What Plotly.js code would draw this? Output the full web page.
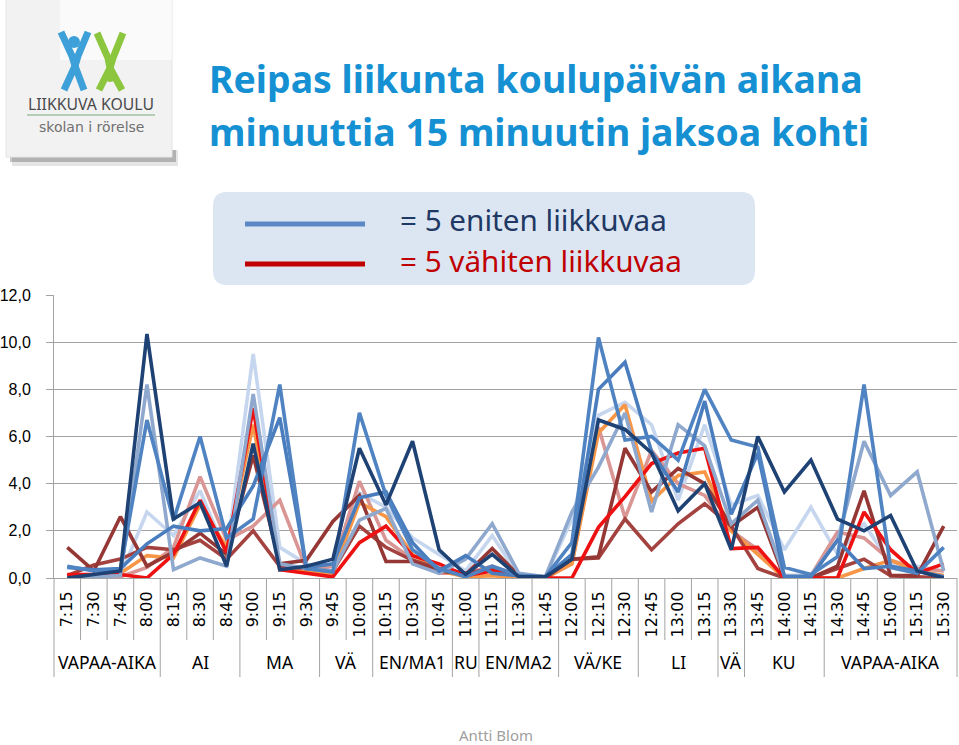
<!DOCTYPE html>
<html><head><meta charset="utf-8">
<script src="https://cdn.plot.ly/plotly-3.0.1.min.js"></script>
<style>html,body{margin:0;padding:0;background:#fff;}#chart{width:959px;height:745px;}</style>
</head><body><div id="chart"></div>
<script>
// ---- data ----
const times = ['7:15','7:30','7:45','8:00','8:15','8:30','8:45','9:00','9:15','9:30','9:45','10:00','10:15','10:30','10:45','11:00','11:15','11:30','11:45','12:00','12:15','12:30','12:45','13:00','13:15','13:30','13:45','14:00','14:15','14:30','14:45','15:00','15:15','15:30'];
const groupNames = ['VAPAA-AIKA','AI','MA','VÄ','EN/MA1','RU','EN/MA2','VÄ/KE','LI','VÄ','KU','VAPAA-AIKA'];
const groupSizes = [4,3,3,2,3,1,3,3,3,1,3,5];
const yTicks = [0,2,4,6,8,10,12];

const lightBlue = [0,0,0.1,2.8,1.8,3.7,1.0,9.5,1.3,0.6,0.3,3.6,3.0,1.7,1.0,0.3,1.8,0.1,0.05,2.5,6.9,7.45,6.5,3.3,6.5,3.1,3.5,1.2,3.0,1.0,2.3,0.6,0.5,0.3];
const salmon = [0,0.1,0.05,0.45,1.3,4.3,1.6,2.2,3.3,0.4,0.5,4.1,1.6,0.8,0.2,0.2,0.5,0.1,0,0.6,6.4,2.55,5.4,4.0,3.5,2.0,1.2,0,0.1,1.95,1.7,0.75,0.4,0.3];
const orange = [0.05,0.1,0.2,0.95,0.85,3.1,1.3,6.5,0.5,0.3,0.2,3.2,2.6,1.0,0.3,0.05,0.1,0,0,0.6,6.15,7.35,3.25,4.35,4.5,2.0,1.0,0,0,0,0.4,0.75,0.3,0.1];
const darkRedB = [0.1,0.55,0.8,1.3,1.2,1.6,0.8,2.0,0.5,0.4,0.3,2.2,1.3,0.75,0.4,0.2,0.4,0.1,0,0.8,0.85,2.5,1.2,2.3,3.15,2.2,0.4,0,0,0.4,0.8,0.1,0.05,0];
const darkRedA = [1.3,0.3,2.6,0.5,1.1,1.9,1.0,5.2,0.6,0.75,2.4,3.5,0.7,0.7,0.3,0.15,1.25,0.1,0.05,0.8,0.9,5.5,3.65,4.65,4.0,2.2,3.0,0,0,0.5,3.7,0.1,0.1,2.2];
const red = [0.15,0.15,0.15,0,1.0,3.3,1.1,7.2,0.35,0.2,0.05,1.5,2.2,0.95,0.6,0.1,0.3,0.1,0,0,2.15,3.45,4.85,5.3,5.5,1.25,1.3,0,0,0,2.8,1.2,0.2,0.6];
const grayBlue = [0,0.05,0.1,8.2,0.35,0.85,0.5,7.8,0.6,0.4,0.3,2.45,2.95,0.6,0.2,0.8,2.3,0.2,0.05,2.8,4.7,7.0,2.8,6.5,5.6,2.3,3.3,0.1,0.1,1.6,5.8,3.5,4.5,0.3];
const blueB = [0.45,0.35,0.4,1.45,2.2,2.0,2.1,3.9,6.8,0.45,0.6,3.4,3.65,1.5,0.3,0.95,0.2,0.1,0.05,1.0,8.0,9.15,5.35,3.65,7.5,2.7,5.3,0.05,0.05,1.6,0.4,0.5,0.3,0.05];
const blueA = [0.5,0.3,0.35,6.7,2.45,6.0,1.7,2.5,8.2,0.4,0.25,7.0,3.5,1.2,0.4,0.05,0.5,0.1,0.05,1.5,10.2,5.85,6.0,5.0,8.0,5.85,5.55,0.45,0.15,0.9,8.2,0.45,0.2,1.3];
const navy = [0,0.15,0.3,10.35,2.5,3.2,0.5,5.7,0.35,0.5,0.8,5.5,3.1,5.8,1.2,0.15,1.0,0.05,0.05,0.8,6.7,6.3,5.3,2.85,4.0,1.2,6.0,3.65,5.0,2.5,2.0,2.65,0.3,0];

const series = [
  {y: lightBlue, c: '#c5d6ee'},
  {y: salmon, c: '#d99694'},
  {y: orange, c: '#f79646'},
  {y: darkRedB, c: '#a4423f'},
  {y: darkRedA, c: '#953735'},
  {y: red, c: '#ee1111'},
  {y: grayBlue, c: '#8fa8cd'},
  {y: blueB, c: '#4a7dbd'},
  {y: blueA, c: '#4f83c2'},
  {y: navy, c: '#1f4274'}
];

// ---- geometry helpers (pixel -> paper) ----
const W = 959, H = 745, ML = 54, MR = 2, MT = 295, MB = 167;
const PW = W - ML - MR, PH = H - MT - MB;
const X = px => (px - ML) / PW;
const Y = py => (H - MB - py) / PH;
const NC = times.length;

// measure text to pick a font size giving a target width
const NARROW = "'Noto Sans', 'Open Sans', sans-serif";
function textWidth(text, fam, weight, stretch) {
  const s = document.createElement('span');
  s.style.cssText = 'position:absolute;visibility:hidden;white-space:nowrap;font-size:100px;font-family:' + fam +
    ';font-weight:' + weight + ';font-stretch:' + stretch;
  s.textContent = text;
  document.body.appendChild(s);
  const w = s.getBoundingClientRect().width;
  s.remove();
  return w;
}
function fit(text, target, weight, stretch, maxSize) {
  const sz = 100 * target / textWidth(text, NARROW, weight, stretch);
  return Math.min(sz, maxSize || 999);
}

const traces = series.map(s => ({
  x: times, y: s.y, type: 'scatter', mode: 'lines',
  line: {color: s.c, width: 3.6}, hoverinfo: 'skip', showlegend: false
}));

const grid = '#a3a3a3';
const shapes = [];
const annotations = [];

// category separators
const groupStarts = [0];
groupSizes.forEach((n, i) => groupStarts.push(groupStarts[i] + n));
for (let i = 0; i <= NC; i++) {
  const isGroup = groupStarts.indexOf(i) >= 0;
  shapes.push({type: 'line', xref: 'paper', yref: 'paper', x0: i / NC, x1: i / NC, y0: 0, y1: Y(isGroup ? 677 : 640), line: {color: grid, width: 1}});
}
const gSize = fit('VAPAA-AIKA', 98, 400, 'condensed', 22);
groupNames.forEach((g, i) => {
  const mid = (groupStarts[i] + groupSizes[i] / 2) / NC;
  annotations.push({xref: 'paper', yref: 'paper', x: mid, y: Y(662), text: g, showarrow: false, xanchor: 'center', yanchor: 'middle',
    font: {family: NARROW, stretch: 'condensed', size: gSize, color: '#000'}});
});

// rounded rect path in pixel coordinates
function rr(x0, y0, x1, y1, r) {
  const p = (a, b) => X(a) + ',' + Y(b);
  return 'M' + p(x0 + r, y0) + ' L' + p(x1 - r, y0) + ' Q' + p(x1, y0) + ' ' + p(x1, y0 + r) +
    ' L' + p(x1, y1 - r) + ' Q' + p(x1, y1) + ' ' + p(x1 - r, y1) + ' L' + p(x0 + r, y1) +
    ' Q' + p(x0, y1) + ' ' + p(x0, y1 - r) + ' L' + p(x0, y0 + r) + ' Q' + p(x0, y0) + ' ' + p(x0 + r, y0) + ' Z';
}
function pl(pts) { return 'M' + pts.map(q => X(q[0]) + ',' + Y(q[1])).join(' L'); }

// legend box
shapes.push({type: 'path', xref: 'paper', yref: 'paper', path: rr(213, 192, 755, 285, 14), fillcolor: '#dce6f2', line: {width: 0}, layer: 'below'});
shapes.push({type: 'line', xref: 'paper', yref: 'paper', x0: X(245), x1: X(365), y0: Y(224), y1: Y(224), line: {color: '#5b87c4', width: 5}});
shapes.push({type: 'line', xref: 'paper', yref: 'paper', x0: X(245), x1: X(365), y0: Y(264), y1: Y(264), line: {color: '#c00000', width: 5}});
const legSize = fit('= 5 vähiten liikkuvaa', 282, 400, 'condensed', 32);
annotations.push({xref: 'paper', yref: 'paper', x: X(398), y: Y(220), text: '= 5 eniten liikkuvaa', showarrow: false, xanchor: 'left', yanchor: 'middle',
  font: {family: NARROW, stretch: 'condensed', size: legSize, color: '#1f3864'}});
annotations.push({xref: 'paper', yref: 'paper', x: X(398), y: Y(260), text: '= 5 vähiten liikkuvaa', showarrow: false, xanchor: 'left', yanchor: 'middle',
  font: {family: NARROW, stretch: 'condensed', size: legSize, color: '#c00000'}});

// title
const t1 = 'Reipas liikunta koulupäivän aikana', t2 = 'minuuttia 15 minuutin jaksoa kohti';
const tSize = fit(t1, 654, 700, 'condensed', 48);
const tFont = {family: NARROW, size: tSize, color: '#1590d2', weight: 700, stretch: 'condensed'};
annotations.push({xref: 'paper', yref: 'paper', x: X(207), y: Y(78), text: t1, showarrow: false, xanchor: 'left', yanchor: 'middle', font: tFont});
annotations.push({xref: 'paper', yref: 'paper', x: X(207), y: Y(132), text: t2, showarrow: false, xanchor: 'left', yanchor: 'middle', font: tFont});

// logo card with shadow
shapes.push({type: 'rect', xref: 'paper', yref: 'paper', x0: X(12), x1: X(178), y0: Y(150), y1: Y(166), fillcolor: 'rgba(0,0,0,0.10)', line: {width: 0}});
shapes.push({type: 'rect', xref: 'paper', yref: 'paper', x0: X(10), x1: X(176), y0: Y(150), y1: Y(162), fillcolor: 'rgba(0,0,0,0.22)', line: {width: 0}});
shapes.push({type: 'rect', xref: 'paper', yref: 'paper', x0: X(6), x1: X(172), y0: Y(-2), y1: Y(157), fillcolor: '#f2f2f2', line: {color: '#e4e4e4', width: 1}});
shapes.push({type: 'rect', xref: 'paper', yref: 'paper', x0: X(60), x1: X(172), y0: Y(-2), y1: Y(60), fillcolor: 'rgba(255,255,255,0.6)', line: {width: 0}});
// blue figure
const blueF = '#3ea0d8', greenF = '#8cc63f';
shapes.push({type: 'path', xref: 'paper', yref: 'paper', path: pl([[61, 32], [72, 56], [75, 66], [64, 90]]), line: {color: blueF, width: 7}});
shapes.push({type: 'path', xref: 'paper', yref: 'paper', path: pl([[88, 32], [78, 56], [75, 66], [84, 90]]), line: {color: blueF, width: 7}});
shapes.push({type: 'circle', xref: 'paper', yref: 'paper', x0: X(68), x1: X(80), y0: Y(36), y1: Y(48), fillcolor: blueF, line: {width: 0}});
// green figure
shapes.push({type: 'path', xref: 'paper', yref: 'paper', path: pl([[97, 33], [108, 58], [110, 68], [99, 90]]), line: {color: greenF, width: 7}});
shapes.push({type: 'path', xref: 'paper', yref: 'paper', path: pl([[123, 33], [113, 58], [110, 68], [122, 90]]), line: {color: greenF, width: 7}});
shapes.push({type: 'circle', xref: 'paper', yref: 'paper', x0: X(104), x1: X(116), y0: Y(70), y1: Y(82), fillcolor: greenF, line: {width: 0}});
const logoSize = fit('LIIKKUVA KOULU', 126, 400, 'condensed', 19);
annotations.push({xref: 'paper', yref: 'paper', x: X(91), y: Y(104), text: 'LIIKKUVA KOULU', showarrow: false, xanchor: 'center', yanchor: 'middle',
  font: {family: NARROW, stretch: 'condensed', size: logoSize, color: '#4a4a4a'}});
shapes.push({type: 'line', xref: 'paper', yref: 'paper', x0: X(27), x1: X(155), y0: Y(115), y1: Y(115), line: {color: '#9cc3a0', width: 1.5}});
annotations.push({xref: 'paper', yref: 'paper', x: X(91), y: Y(127), text: 'skolan i rörelse', showarrow: false, xanchor: 'center', yanchor: 'middle',
  font: {family: 'DejaVu Sans, sans-serif', size: 14, color: '#707070'}});

// author
const aSize = fit('Antti Blom', 74, 400, 'condensed', 16);
annotations.push({xref: 'paper', yref: 'paper', x: X(496), y: Y(735), text: 'Antti Blom', showarrow: false, xanchor: 'center', yanchor: 'middle',
  font: {family: NARROW, stretch: 'condensed', size: aSize, color: '#a0a0a0'}});

const layout = {
  width: W, height: H,
  margin: {l: ML, r: MR, t: MT, b: MB, pad: 0},
  paper_bgcolor: '#fff', plot_bgcolor: '#fff',
  separators: ',.',
  showlegend: false,
  xaxis: {type: 'category', range: [-0.5, NC - 0.5], showgrid: false, zeroline: false, showline: true, linecolor: grid, linewidth: 1,
    ticks: '', tickangle: -90, ticklabelstandoff: 6, tickfont: {family: 'DejaVu Sans, sans-serif', size: 16, color: '#000'}, fixedrange: true},
  yaxis: {range: [0, 12], tickvals: yTicks, tickformat: '.1f', showgrid: true, gridcolor: grid, gridwidth: 1.2, zeroline: false,
    showline: true, linecolor: grid, linewidth: 1, ticks: 'outside', ticklen: 7, tickcolor: grid, ticklabelstandoff: 12,
    tickfont: {family: 'Liberation Sans, Arial, sans-serif', size: 16, color: '#000'}, fixedrange: true},
  shapes: shapes,
  annotations: annotations
};

Plotly.newPlot('chart', traces, layout, {displayModeBar: false, staticPlot: true});
</script>
</body></html>
